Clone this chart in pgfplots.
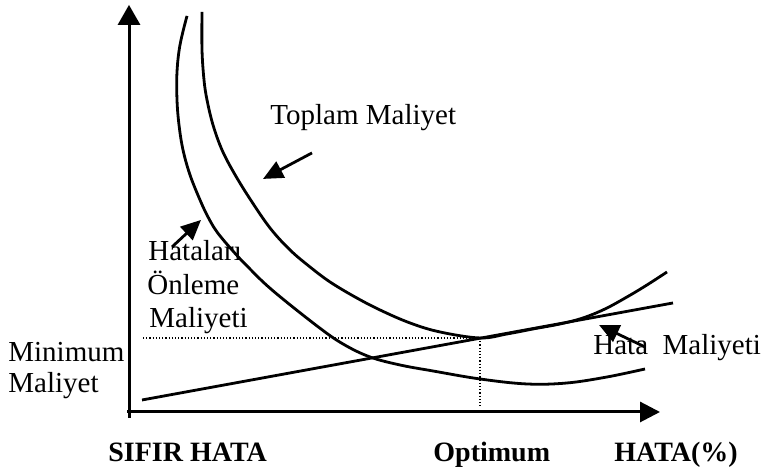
\documentclass[border=0pt]{standalone}
\usepackage{pgfplots}
\pgfplotsset{compat=1.18}
\usepackage{fontspec}
\setmainfont{Liberation Serif}
\usetikzlibrary{arrows.meta}
\begin{document}
\begin{tikzpicture}
\useasboundingbox (0,0) rectangle (381.5pt,237pt);
\tikzset{lab/.style={font=\fontsize{14.5}{16}\selectfont, inner sep=0pt, anchor=base west},
         blab/.style={font=\fontsize{14}{16}\selectfont\bfseries, inner sep=0pt, anchor=base west}}
\begin{axis}[at={(0,0)}, anchor=south west,
  width=381.5pt, height=237pt, scale only axis,
  xmin=0, xmax=763, ymin=0, ymax=474, y dir=reverse,
  hide axis, clip=false]
% axes
\addplot[black, line width=1.5pt, -{Triangle[length=10pt,width=11pt]}] coordinates {(129,418) (129,5)};
\addplot[black, line width=1.5pt, -{Triangle[length=10pt,width=10pt]}] coordinates {(127,412) (660,412)};
% dotted guides
\addplot[black, line width=0.6pt, densely dotted] coordinates {(143,338) (482,338)};
\addplot[black, line width=0.6pt, densely dotted] coordinates {(480,338) (480,408)};
% Hata maliyeti (failure cost)
\addplot[black, line width=1.4pt] coordinates {(142,400) (673,303)};
% Hatalari onleme maliyeti (prevention cost)
\addplot[black, line width=1.4pt, smooth, tension=0.6] coordinates {
(187,16) (180,45) (177,72) (177,100) (179,125) (183,150) (190,175) (200,200)
(208,217) (217,232) (232,250) (247,266) (272,290) (317,326) (343,344)
(370,357) (400,365) (433,371) (480,379) (527,384) (567,383) (607,377) (645,369)};
% Toplam maliyet (total cost)
\addplot[black, line width=1.4pt, smooth, tension=0.6] coordinates {
(202,12) (202,50) (204,80) (207,100) (213,125) (222,150) (234,173) (250,199)
(270,228) (290,250) (310,267) (330,282) (355,297) (380,310) (410,323) (440,332)
(480,338) (507,334) (533,329) (560,324) (583,318) (605,309) (627,297) (647,285) (667,272)};
% annotation arrows
\addplot[black, line width=1.4pt, -{Triangle[length=10pt,width=9pt]}] coordinates {(312,153) (263,179)};
\addplot[black, line width=1.4pt, -{Triangle[length=10pt,width=9pt]}] coordinates {(172,247) (201,220)};
\addplot[black, line width=1.4pt, -{Triangle[length=10pt,width=9pt]}] coordinates {(645,347) (599,325)};
% labels
\node[lab] at (axis cs:270,125) {Toplam Maliyet};
\node[lab] at (axis cs:148,261) {Hataları};
\node[lab] at (axis cs:147,295) {Önleme};
\node[lab] at (axis cs:149,328) {Maliyeti};
\node[lab] at (axis cs:8,362) {Minimum};
\node[lab] at (axis cs:8,393) {Maliyet};
\node[lab] at (axis cs:593,355) {Hata\ \ Maliyeti};
\node[blab] at (axis cs:108,462) {SIFIR HATA};
\node[blab] at (axis cs:433,462) {Optimum};
\node[blab] at (axis cs:614,462) {HATA(\%)};
\end{axis}
\end{tikzpicture}
\end{document}
